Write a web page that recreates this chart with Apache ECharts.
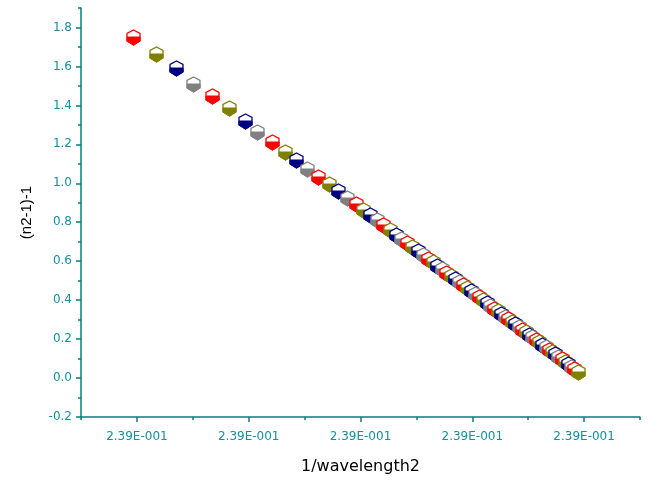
<!DOCTYPE html>
<html>
<head>
<meta charset="utf-8">
<script src="https://cdn.jsdelivr.net/npm/echarts@6/dist/echarts.min.js"></script>
<style>html,body{margin:0;padding:0;background:#fff}#c{width:651px;height:480px}</style>
</head>
<body>
<div id="c"></div>
<script>
// x positions are in axis units (0..10), majors at 1,3,5,7,9 labelled below
var xTickValues = [1, 3, 5, 7, 9];
var xTickLabels = ['2.39E-001', '2.39E-001', '2.39E-001', '2.39E-001', '2.39E-001'];
var yTickValues = [-0.2, 0, 0.2, 0.4, 0.6, 0.8, 1.0, 1.2, 1.4, 1.6, 1.8];
var yTickLabels = ['-0.2', '0.0', '0.2', '0.4', '0.6', '0.8', '1.0', '1.2', '1.4', '1.6', '1.8'];

var xValues = [
  0.936, 1.336, 1.699, 2.009, 2.338, 2.653, 2.925, 3.154, 3.411, 3.649,
  3.846, 4.038, 4.245, 4.442, 4.603, 4.764, 4.920, 5.050, 5.175, 5.295,
  5.411, 5.522, 5.629, 5.733, 5.833, 5.930, 6.024, 6.115, 6.204, 6.290,
  6.374, 6.456, 6.537, 6.615, 6.692, 6.767, 6.841, 6.914, 6.985, 7.055,
  7.124, 7.192, 7.259, 7.325, 7.391, 7.455, 7.519, 7.583, 7.646, 7.708,
  7.770, 7.832, 7.893, 7.954, 8.014, 8.074, 8.134, 8.193, 8.252, 8.310,
  8.368, 8.426, 8.484, 8.542, 8.599, 8.657, 8.714, 8.771, 8.828, 8.895
];
var yValues = [
  1.750, 1.665, 1.591, 1.511, 1.448, 1.386, 1.321, 1.263, 1.212, 1.161,
  1.118, 1.075, 1.032, 0.995, 0.959, 0.922, 0.892, 0.862, 0.835, 0.809,
  0.784, 0.760, 0.737, 0.715, 0.693, 0.672, 0.652, 0.632, 0.613, 0.595,
  0.577, 0.559, 0.541, 0.525, 0.508, 0.492, 0.476, 0.460, 0.445, 0.430,
  0.415, 0.400, 0.386, 0.371, 0.357, 0.343, 0.329, 0.316, 0.302, 0.289,
  0.275, 0.262, 0.249, 0.236, 0.223, 0.210, 0.197, 0.184, 0.171, 0.159,
  0.146, 0.134, 0.121, 0.109, 0.096, 0.084, 0.071, 0.059, 0.047, 0.032
];
var markerColors = ['#FF0000', '#808000', '#000080', '#808080'];

var data = xValues.map(function (x, i) { return [x, yValues[i]]; });

var axisColor = '#008080';
var labelColor = '#12909c';
var font = 'DejaVu Sans';

function renderMarker(params, api) {
  var p = api.coord([api.value(0), api.value(1)]);
  var c = markerColors[params.dataIndex % markerColors.length];
  var x = Math.round(p[0]) + 0.5, y = Math.round(p[1]) + 0.5;
  var w = 6.5, t = 7.5, s = 4, b = 3.5, bt = 7.5, m = -0.5;
  var hex = [[x, y - t], [x + w, y - s], [x + w, y + b], [x, y + bt], [x - w, y + b], [x - w, y - s]];
  var low = [[x - w, y + m], [x + w, y + m], [x + w, y + b], [x, y + bt], [x - w, y + b]];
  return {
    type: 'group',
    children: [
      { type: 'polygon', shape: { points: hex }, style: { fill: '#ffffff', stroke: c, lineWidth: 1.3 } },
      { type: 'polygon', shape: { points: low }, style: { fill: c, stroke: c, lineWidth: 1 } }
    ]
  };
}

var chart = echarts.init(document.getElementById('c'), null, { renderer: 'canvas' });
chart.setOption({
  backgroundColor: '#ffffff',
  animation: false,
  grid: { left: 81, right: 11, top: 8, bottom: 62 },
  xAxis: [
    {
      type: 'value', min: 0, max: 10, interval: 2, position: 'bottom',
      name: '1/wavelength2', nameLocation: 'middle', nameGap: 42,
      nameTextStyle: { color: '#000', fontFamily: font, fontSize: 16 },
      axisLine: { show: true, onZero: false, lineStyle: { color: axisColor, width: 1.5 } },
      axisTick: { show: true, length: 5, customValues: xTickValues, lineStyle: { color: axisColor, width: 1.5 } },
      axisLabel: {
        customValues: xTickValues, margin: 14, color: labelColor, fontFamily: font, fontSize: 12,
        formatter: function (v) { var i = xTickValues.indexOf(v); return i >= 0 ? xTickLabels[i] : ''; }
      },
      splitLine: { show: false }
    },
    {
      type: 'value', min: 0, max: 10, interval: 2, position: 'bottom', offset: 0,
      axisLine: { show: false, onZero: false },
      axisTick: { show: true, length: 3, lineStyle: { color: axisColor, width: 1.5 } },
      axisLabel: { show: false },
      splitLine: { show: false }
    }
  ],
  yAxis: [
    {
      type: 'value', min: -0.2, max: 1.9, interval: 0.2, position: 'left',
      name: '(n2-1)-1', nameLocation: 'middle', nameGap: 47, nameRotate: 90,
      nameTextStyle: { color: '#000', fontFamily: 'Liberation Sans', fontSize: 15 },
      axisLine: { show: true, onZero: false, lineStyle: { color: axisColor, width: 1.5 } },
      axisTick: { show: true, length: 5, customValues: yTickValues, lineStyle: { color: axisColor, width: 1.5 } },
      axisLabel: {
        customValues: yTickValues, margin: 9, color: labelColor, fontFamily: font, fontSize: 12,
        formatter: function (v) {
          for (var i = 0; i < yTickValues.length; i++) { if (Math.abs(yTickValues[i] - v) < 1e-9) return yTickLabels[i]; }
          return '';
        }
      },
      splitLine: { show: false }
    },
    {
      type: 'value', min: -0.2, max: 1.9, interval: 0.1, position: 'left', offset: 0,
      axisLine: { show: false, onZero: false },
      axisTick: { show: true, length: 3, lineStyle: { color: axisColor, width: 1.5 } },
      axisLabel: { show: false },
      splitLine: { show: false }
    }
  ],
  series: [
    {
      type: 'custom',
      xAxisIndex: 0, yAxisIndex: 0,
      renderItem: renderMarker,
      encode: { x: 0, y: 1 },
      clip: false,
      data: data
    }
  ]
});
</script>
</body>
</html>
